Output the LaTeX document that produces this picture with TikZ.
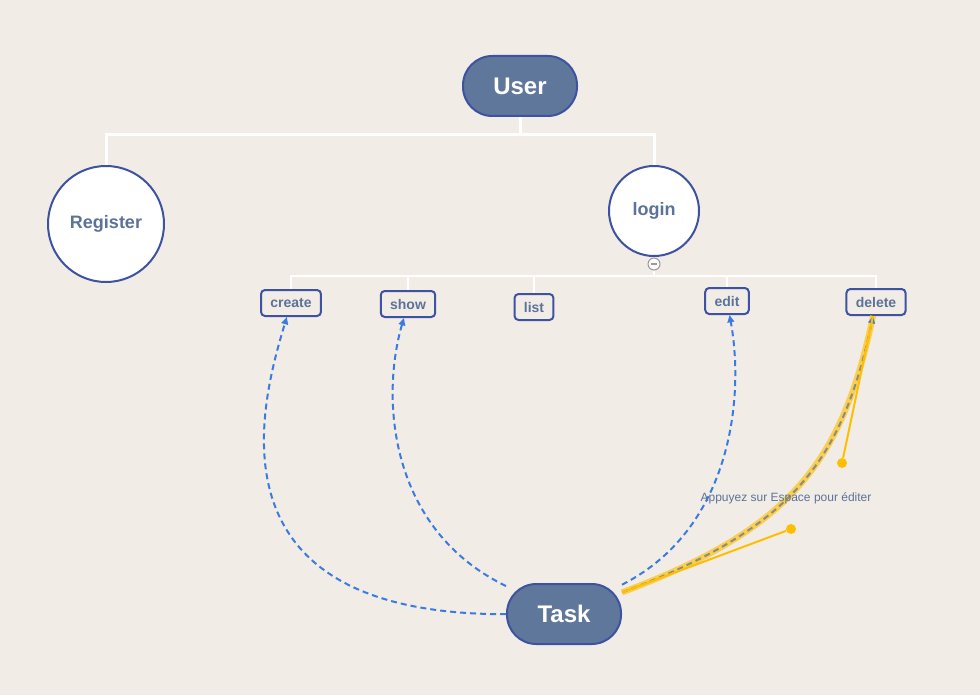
\documentclass[tikz,border=0pt]{standalone}
\usepackage{fontspec}
\setmainfont{Liberation Sans}
\usetikzlibrary{arrows.meta}

\definecolor{paper}{HTML}{F1ECE6}
\definecolor{topicfill}{HTML}{60779C}
\definecolor{rim}{HTML}{3D52A0}
\definecolor{labelblue}{HTML}{5B7399}
\definecolor{linkblue}{HTML}{3A7BE0}
\definecolor{handle}{HTML}{FFBF00}
\definecolor{selgray}{HTML}{8E8C7C}

\begin{document}
\begin{tikzpicture}[x=0.75pt, y=-0.75pt,
  topic/.style={rectangle, rounded corners=22pt, draw=rim, line width=1.5pt, fill=topicfill, text=white, font=\bfseries\fontsize{18}{20}\selectfont, minimum width=85.5pt, minimum height=45pt},
  bubble/.style={circle, draw=rim, line width=1.5pt, fill=white, text=labelblue, font=\bfseries\fontsize{13.5}{15}\selectfont, inner sep=0pt},
  leaf/.style={rectangle, rounded corners=3pt, draw=rim, line width=1.5pt, text=labelblue, font=\bfseries\fontsize{10.5}{12}\selectfont, minimum height=19.5pt, inner xsep=7pt, inner ysep=0pt},
  tree/.style={draw=white, line width=2.25pt},
  subtree/.style={draw=white, line width=1.5pt},
  link/.style={draw=linkblue, line width=1.5pt, dash pattern=on 4.5pt off 3pt, -{Triangle[length=5.5pt, width=5pt]}},
  dot/.style={circle, fill=handle, inner sep=0pt, minimum size=7.5pt}]

\fill[paper] (0,0) rectangle (980,695);
\useasboundingbox (0,0) rectangle (980,695);

% main topic and its branches
\node[topic] (User) at (520,86) {User};
\node[bubble, minimum size=87pt] (Register) at (106,224) {\raisebox{-1pt}{Register}};
\node[bubble, minimum size=67.5pt] (login) at (654,211) {\raisebox{-1pt}{login}};

\coordinate (user fork) at (520,135);
\draw[tree] (User) -- (user fork) -| (Register);
\draw[tree] (user fork) -| (login);

% collapse toggle under login
\node[circle, draw=gray!80, fill=white!85!paper, line width=0.75pt, minimum size=9pt, inner sep=0pt] (login toggle) at (654,264) {};
\draw[gray!80, line width=0.9pt] ([xshift=-2.6pt]login toggle.center) -- ([xshift=2.6pt]login toggle.center);

% actions
\node[leaf] (create) at (291,303) {create};
\node[leaf] (show) at (408,304) {show};
\node[leaf] (list) at (534,307) {list};
\node[leaf] (edit) at (727,301) {edit};
\node[leaf] (delete) at (876,302) {delete};

\coordinate (login fork) at (654,276);
\draw[subtree] (login toggle) -- (login fork);
\draw[subtree] (login fork) -| (create);
\draw[subtree] (login fork) -| (show);
\draw[subtree] (login fork) -| (list);
\draw[subtree] (login fork) -| (edit);
\draw[subtree] (login fork) -| (delete);

% floating topic
\node[topic] (Task) at (564,614) {Task};

\draw[link] (Task) .. controls (200,615) and (262,400) .. (create);
\draw[link] (Task) .. controls (390,530) and (380,400) .. (show);
\draw[link] (Task) .. controls (730,530) and (745,400) .. (edit);

% selected relationship with its handles
\node[dot] (handle a) at (791,529) {};
\node[dot] (handle b) at (842,463) {};
\draw[handle!65!paper, line width=4.5pt] (Task) .. controls (handle a.center) and (handle b.center) .. (delete);
\draw[selgray, line width=1.5pt, dash pattern=on 4.5pt off 3pt, -{Triangle[length=5.5pt, width=5pt, color=linkblue]}] (Task) .. controls (handle a.center) and (handle b.center) .. (delete);
\draw[handle, line width=1.5pt] (Task) -- (handle a);
\draw[handle, line width=1.5pt] (delete) -- (handle b);

\node[text=labelblue, font=\fontsize{9}{11}\selectfont] (edit hint) at (786,498) {Appuyez sur Espace pour éditer};
\end{tikzpicture}
\end{document}
